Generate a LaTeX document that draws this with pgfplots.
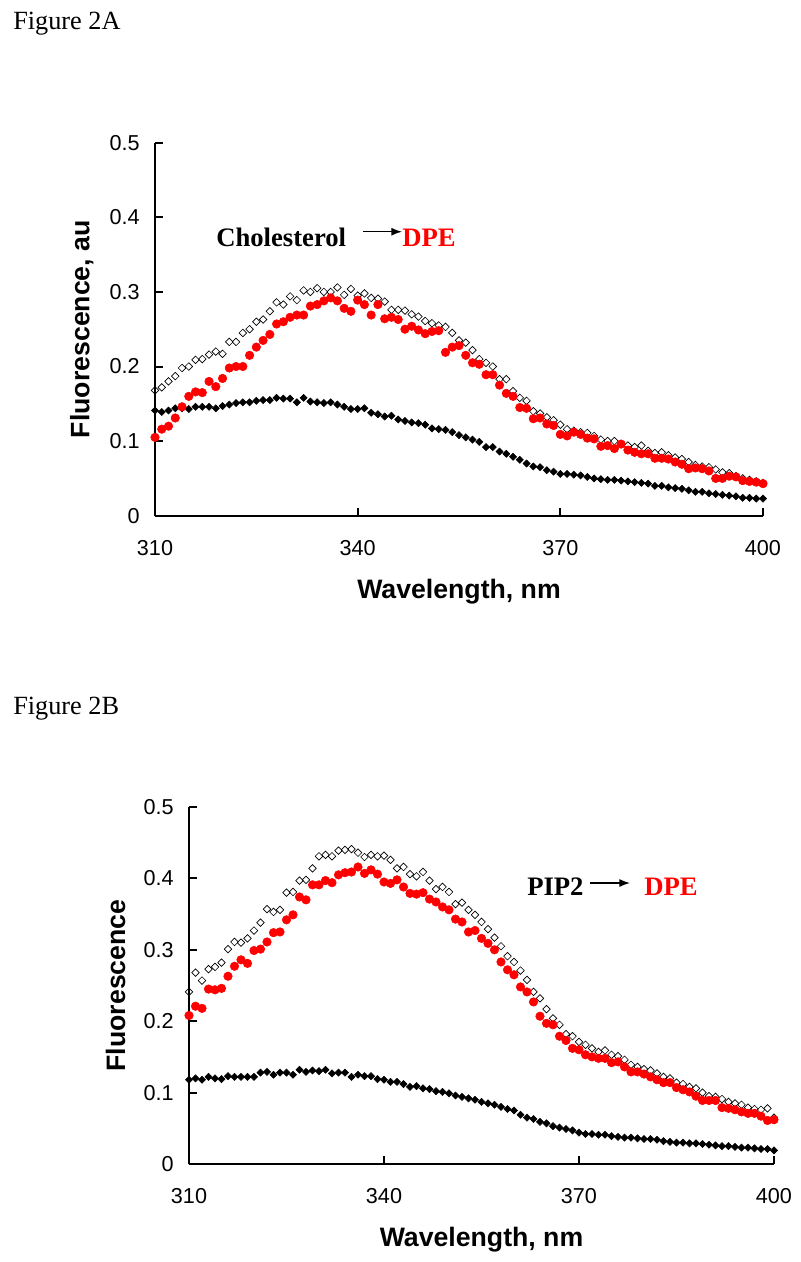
\documentclass[border=0pt]{standalone}
\usepackage{pgfplots}
\usepackage{pgfplotstable}
\pgfplotsset{compat=1.18}
\usepackage{fontspec}
\setmainfont{Liberation Serif}
\newfontfamily\arial{Liberation Sans}
\usetikzlibrary{arrows.meta}

\pgfplotstableread{
wl open red black
310 0.168 0.105 0.141
311 0.172 0.116 0.139
312 0.180 0.120 0.141
313 0.187 0.131 0.144
314 0.198 0.146 0.144
315 0.200 0.160 0.143
316 0.209 0.166 0.146
317 0.210 0.165 0.146
318 0.216 0.180 0.146
319 0.220 0.173 0.144
320 0.217 0.184 0.147
321 0.233 0.198 0.149
322 0.233 0.200 0.151
323 0.245 0.200 0.152
324 0.250 0.215 0.152
325 0.260 0.226 0.154
326 0.263 0.235 0.155
327 0.274 0.243 0.155
328 0.286 0.257 0.158
329 0.283 0.260 0.157
330 0.294 0.266 0.157
331 0.289 0.269 0.152
332 0.302 0.269 0.158
333 0.300 0.281 0.153
334 0.305 0.283 0.152
335 0.300 0.288 0.151
336 0.300 0.292 0.152
337 0.306 0.288 0.149
338 0.296 0.278 0.146
339 0.304 0.274 0.143
340 0.295 0.289 0.143
341 0.298 0.283 0.144
342 0.292 0.269 0.138
343 0.291 0.283 0.136
344 0.287 0.264 0.133
345 0.276 0.266 0.134
346 0.276 0.263 0.129
347 0.275 0.250 0.127
348 0.270 0.254 0.125
349 0.267 0.249 0.124
350 0.261 0.244 0.122
351 0.258 0.247 0.117
352 0.255 0.248 0.116
353 0.253 0.219 0.115
354 0.245 0.226 0.112
355 0.235 0.228 0.108
356 0.232 0.215 0.105
357 0.222 0.205 0.102
358 0.210 0.203 0.099
359 0.205 0.189 0.092
360 0.200 0.189 0.092
361 0.183 0.175 0.086
362 0.183 0.164 0.083
363 0.167 0.160 0.079
364 0.158 0.145 0.075
365 0.154 0.144 0.070
366 0.140 0.130 0.066
367 0.137 0.131 0.065
368 0.132 0.123 0.061
369 0.128 0.121 0.059
370 0.122 0.109 0.056
371 0.116 0.107 0.056
372 0.114 0.112 0.055
373 0.112 0.109 0.054
374 0.111 0.104 0.052
375 0.107 0.103 0.050
376 0.102 0.093 0.049
377 0.100 0.094 0.048
378 0.100 0.090 0.048
379 0.096 0.096 0.047
380 0.094 0.088 0.046
381 0.092 0.085 0.045
382 0.094 0.083 0.044
383 0.087 0.083 0.043
384 0.084 0.077 0.040
385 0.085 0.077 0.040
386 0.081 0.076 0.038
387 0.078 0.072 0.037
388 0.076 0.069 0.036
389 0.072 0.063 0.034
390 0.068 0.064 0.032
391 0.066 0.063 0.032
392 0.065 0.060 0.030
393 0.062 0.050 0.029
394 0.058 0.050 0.028
395 0.057 0.053 0.027
396 0.053 0.052 0.026
397 0.050 0.047 0.024
398 0.048 0.046 0.024
399 0.046 0.045 0.023
400 0.044 0.043 0.023
}\dataA

\pgfplotstableread{
wl open red black
310 0.241 0.208 0.118
311 0.268 0.221 0.120
312 0.257 0.218 0.118
313 0.273 0.245 0.122
314 0.276 0.244 0.120
315 0.282 0.246 0.119
316 0.301 0.263 0.123
317 0.311 0.277 0.122
318 0.310 0.286 0.122
319 0.316 0.281 0.122
320 0.327 0.299 0.122
321 0.338 0.301 0.128
322 0.357 0.311 0.129
323 0.353 0.324 0.125
324 0.356 0.325 0.128
325 0.380 0.342 0.128
326 0.381 0.349 0.125
327 0.397 0.374 0.132
328 0.398 0.370 0.129
329 0.414 0.391 0.131
330 0.431 0.391 0.130
331 0.433 0.397 0.132
332 0.431 0.394 0.127
333 0.439 0.405 0.128
334 0.440 0.408 0.128
335 0.441 0.409 0.122
336 0.436 0.416 0.125
337 0.430 0.407 0.123
338 0.433 0.412 0.123
339 0.431 0.406 0.119
340 0.432 0.395 0.118
341 0.426 0.393 0.115
342 0.414 0.398 0.115
343 0.416 0.388 0.112
344 0.406 0.379 0.108
345 0.403 0.378 0.109
346 0.409 0.380 0.106
347 0.397 0.371 0.105
348 0.385 0.367 0.102
349 0.388 0.360 0.101
350 0.381 0.356 0.099
351 0.364 0.343 0.096
352 0.366 0.339 0.094
353 0.356 0.325 0.092
354 0.349 0.327 0.090
355 0.339 0.316 0.087
356 0.329 0.309 0.085
357 0.317 0.300 0.083
358 0.305 0.283 0.080
359 0.291 0.272 0.077
360 0.283 0.265 0.075
361 0.271 0.248 0.069
362 0.258 0.241 0.065
363 0.241 0.227 0.063
364 0.232 0.207 0.059
365 0.217 0.197 0.057
366 0.204 0.195 0.053
367 0.195 0.179 0.051
368 0.182 0.173 0.049
369 0.179 0.162 0.047
370 0.171 0.160 0.044
371 0.167 0.153 0.042
372 0.162 0.150 0.042
373 0.157 0.148 0.041
374 0.159 0.148 0.041
375 0.153 0.142 0.039
376 0.151 0.143 0.038
377 0.146 0.136 0.037
378 0.139 0.129 0.037
379 0.136 0.129 0.036
380 0.133 0.126 0.035
381 0.131 0.122 0.035
382 0.127 0.118 0.034
383 0.122 0.114 0.032
384 0.120 0.114 0.031
385 0.114 0.107 0.030
386 0.112 0.104 0.030
387 0.108 0.101 0.029
388 0.106 0.095 0.029
389 0.100 0.089 0.028
390 0.095 0.089 0.027
391 0.094 0.089 0.026
392 0.091 0.079 0.025
393 0.087 0.078 0.025
394 0.085 0.076 0.024
395 0.083 0.073 0.023
396 0.079 0.071 0.023
397 0.077 0.071 0.022
398 0.076 0.067 0.021
399 0.078 0.061 0.021
400 0.065 0.062 0.019
}\dataB

\pgfplotsset{
  fig/.style={
    scale only axis,
    xmin=310, xmax=400, ymin=0, ymax=0.5,
    axis x line*=bottom, axis y line*=left,
    axis line style={-, line width=1.5pt},
    every tick/.style={line width=1.5pt, black},
    major tick length=6pt,
    tick align=inside,
    xtick={310,340,370,400},
    xticklabels={310,340,370,400},
    ytick={0,0.1,0.2,0.3,0.4,0.5},
    yticklabels={0,0.1,0.2,0.3,0.4,0.5},
    /pgf/number format/assume math mode=true,
    ticklabel style={font=\arial\fontsize{16.2}{18}\selectfont},
    yticklabel style={xshift=-8pt},
    xticklabel style={yshift=-15pt},
    xlabel style={font=\arial\bfseries\fontsize{20}{22}\selectfont,
      at={(axis description cs:0.5,0)}, anchor=center, yshift=-57pt},
    ylabel style={font=\arial\bfseries\fontsize{20}{22}\selectfont,
      at={(axis description cs:0,0.5)}, anchor=center, yshift=55pt},
    xlabel={Wavelength, nm},
    clip=false,
  },
  opens/.style={only marks, mark=square, mark size=2pt,
    mark options={rotate=45, draw=black, fill=white, line width=0.5pt}},
  blacks/.style={only marks, mark=square*, mark size=1.9pt,
    mark options={rotate=45, draw=black, fill=black}},
  reds/.style={only marks, mark=*, mark size=3.2pt,
    mark options={draw=red, fill=red}},
}

\begin{document}
\begin{tikzpicture}
\path[use as bounding box] (0pt,0pt) rectangle (600pt,-946.5pt);

\node[anchor=base west, font=\fontsize{19.7}{22}\selectfont, inner sep=0pt] at (9.75pt,-22.5pt) {Figure 2A};
\node[anchor=base west, font=\fontsize{19.7}{22}\selectfont, inner sep=0pt] at (9.75pt,-535.5pt) {Figure 2B};

\begin{axis}[fig, at={(116.25pt,-386.78pt)}, anchor=south west,
  width=456pt, height=279.75pt, ylabel={Fluorescence, au}]
\addplot[opens] table[x=wl, y=open] {\dataA};
\addplot[blacks] table[x=wl, y=black] {\dataA};
\addplot[reds] table[x=wl, y=red] {\dataA};
\end{axis}

\begin{axis}[fig, at={(141.75pt,-873pt)}, anchor=south west,
  width=438.75pt, height=267.75pt, ylabel={Fluorescence}]
\addplot[opens] table[x=wl, y=open] {\dataB};
\addplot[blacks] table[x=wl, y=black] {\dataB};
\addplot[reds] table[x=wl, y=red] {\dataB};
\end{axis}

% annotations
\node[anchor=base west, font=\bfseries\fontsize{20}{22}\selectfont, inner sep=0pt] at (162pt,-185.25pt) {Cholesterol};
\draw[-{Latex[length=8pt,width=6pt]}, line width=1pt] (272.25pt,-173.8pt) -- (301.5pt,-173.8pt);
\node[anchor=base west, font=\bfseries\fontsize{20}{22}\selectfont, inner sep=0pt, text=red] at (301.5pt,-185.25pt) {DPE};

\node[anchor=base west, font=\bfseries\fontsize{20}{22}\selectfont, inner sep=0pt] at (395.25pt,-671.25pt) {PIP2};
\draw[-{Latex[length=8pt,width=6pt]}, line width=1pt] (442.5pt,-662.25pt) -- (472.5pt,-662.25pt);
\node[anchor=base west, font=\bfseries\fontsize{20}{22}\selectfont, inner sep=0pt, text=red] at (483pt,-671.25pt) {DPE};
\end{tikzpicture}
\end{document}
